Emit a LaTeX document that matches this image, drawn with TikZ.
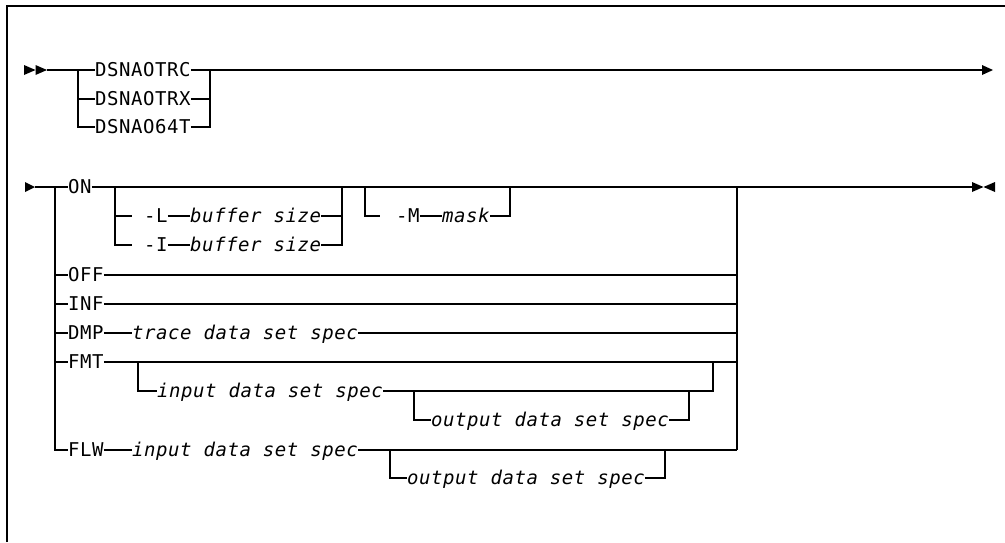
\documentclass[tikz,border=0pt]{standalone}
\usepackage{fontspec}
\newfontfamily\dmono[LetterSpace=2.9]{DejaVu Sans Mono}
\tikzset{
  kw/.style={font=\dmono\fontsize{19}{21}\selectfont, inner sep=0pt, anchor=west, text height=13.8pt, text depth=0pt},
  var/.style={kw, font=\dmono\itshape\fontsize{19}{21}\selectfont},
  rail/.style={line width=1.1pt},
  framebox/.style={line width=1.5pt},
  heavy/.style={line width=2pt}
}
\begin{document}
\begin{tikzpicture}[x=1pt,y=-1pt]
\useasboundingbox (0,0) rectangle (1005,542);
\draw[framebox] (7,542) -- (7,6) -- (1005,6);

% ---------- row 1 ----------
\fill (24,65) -- (35.5,70) -- (24,75) -- cycle;
\fill (35.5,65) -- (47,70) -- (35.5,75) -- cycle;
\coordinate (s1) at (47,70);
\coordinate (j1l) at (78,70);
\coordinate (j1r) at (210,70);
\coordinate (e1) at (982,70);
\node[kw] (TRC) at (95,70) {DSNAOTRC};
\node[kw] (TRX) at (95,99) {DSNAOTRX};
\node[kw] (T64) at (95,127) {DSNAO64T};
\draw[rail] (s1) -- (TRC.west);
\draw[rail] (j1l) |- (T64.west);
\draw[rail] (TRX.west -| j1l) -- (TRX.west);
\draw[rail] (TRC.east) -- (e1);
\draw[rail] (T64.east) -| (j1r);
\draw[rail] (TRX.east) -- (TRX.east -| j1r);
\fill (982,65) -- (993,70) -- (982,75) -- cycle;

% ---------- row 2 ----------
\fill (25,182) -- (35,187) -- (25,192) -- cycle;
\coordinate (s2) at (35,187);
\coordinate (j2l) at (55,187);
\coordinate (j2r) at (737,187);
\coordinate (j2b) at (737,450);
\coordinate (e2) at (972,187);
\node[kw] (ON)  at (68,187) {ON};
\node[kw] (OFF) at (68,275) {OFF};
\node[kw] (INF) at (68,304) {INF};
\node[kw] (DMP) at (68,333) {DMP};
\node[kw] (FMT) at (68,362) {FMT};
\node[kw] (FLW) at (68,450) {FLW};
\node[var] (DMPv) at (132,333) {trace data set spec};
\node[var] (FLWin) at (132,450) {input data set spec};

\draw[rail] (s2) -- (ON.west);
\draw[rail] (j2l) |- (FLW.west);
\foreach \n in {OFF,INF,DMP,FMT} \draw[rail] (\n.west -| j2l) -- (\n.west);
\draw[rail] (ON.east) -- (j2r) -- (e2);
\draw[heavy] (743,187) -- (767,187);
\fill (972,182) -- (983.5,187) -- (972,192) -- cycle;
\fill (995,182) -- (983.5,187) -- (995,192) -- cycle;
\draw[rail] (j2r) -- (j2b);
\foreach \n in {OFF,INF,FMT} \draw[rail] (\n.east) -- (\n.east -| j2r);
\draw[rail] (DMP.east) -- (DMPv.west);
\draw[rail] (DMPv.east) -- (DMPv.east -| j2r);
\draw[rail] (FLW.east) -- (FLWin.west);
\draw[rail] (FLWin.east) -- (j2b);

% ON options
\coordinate (jLl) at (115,187);
\coordinate (jLr) at (342,187);
\coordinate (cL) at (132,216);
\coordinate (cI) at (132,245);
\node[kw] (Lopt) at (144,216) {-L};
\node[var] (Lbuf) at (190,216) {buffer size};
\node[kw] (Iopt) at (144,245) {-I};
\node[var] (Ibuf) at (190,245) {buffer size};
\draw[rail] (jLl) |- (cI);
\draw[rail] (cL -| jLl) -- (cL);
\draw[rail] (Lopt.east) -- (Lbuf.west);
\draw[rail] (Iopt.east) -- (Ibuf.west);
\draw[rail] (Ibuf.east) -| (jLr);
\draw[rail] (Lbuf.east) -- (Lbuf.east -| jLr);

\coordinate (jMl) at (365,187);
\coordinate (jMr) at (510,187);
\coordinate (cM) at (380,216);
\node[kw] (Mopt) at (396,216) {-M};
\node[var] (Mmask) at (442,216) {mask};
\draw[rail] (jMl) |- (cM);
\draw[rail] (Mopt.east) -- (Mmask.west);
\draw[rail] (Mmask.east) -| (jMr);

% FMT options
\coordinate (jFl) at (138,362);
\coordinate (jFr) at (713,362);
\node[var] (FMTin) at (157,391) {input data set spec};
\draw[rail] (jFl) |- (FMTin.west);
\draw[rail] (FMTin.east) -| (jFr);
\coordinate (jGl) at (414,391);
\coordinate (jGr) at (689,391);
\node[var] (FMTout) at (431,420) {output data set spec};
\draw[rail] (jGl) |- (FMTout.west);
\draw[rail] (FMTout.east) -| (jGr);

% FLW options
\coordinate (jWl) at (390,450);
\coordinate (jWr) at (665,450);
\node[var] (FLWout) at (407,478) {output data set spec};
\draw[rail] (jWl) |- (FLWout.west);
\draw[rail] (FLWout.east) -| (jWr);
\end{tikzpicture}
\end{document}
